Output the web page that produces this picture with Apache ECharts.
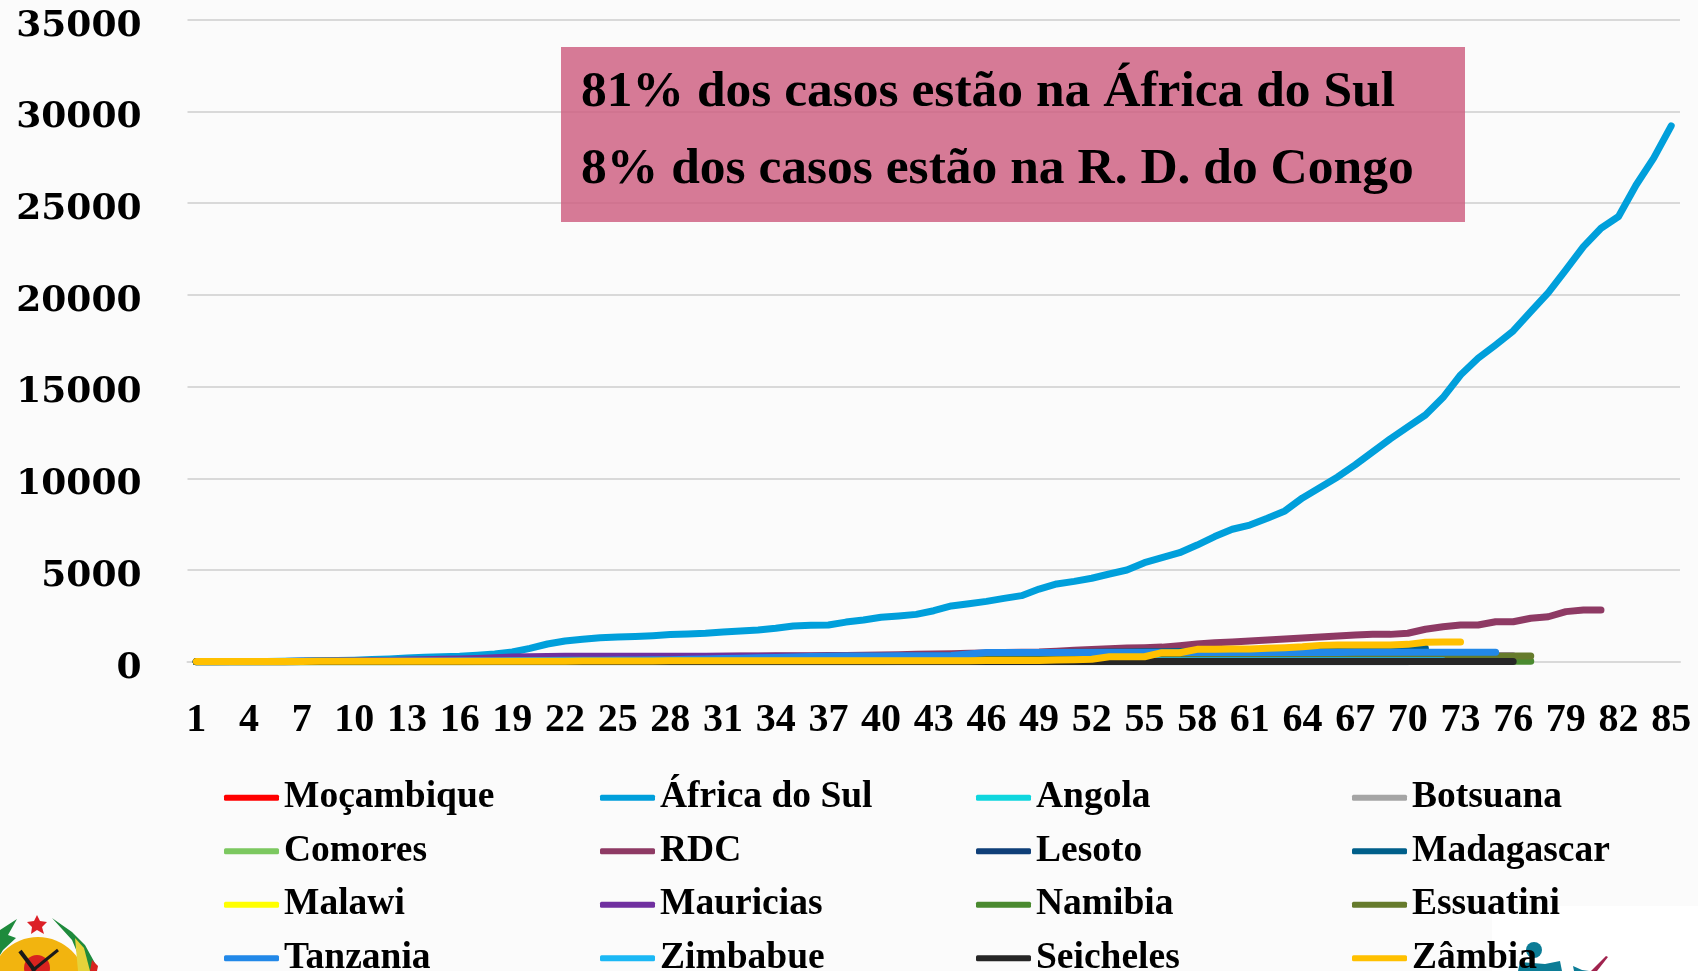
<!DOCTYPE html>
<html><head><meta charset="utf-8">
<style>html,body{margin:0;padding:0;background:#fbfbfb;overflow:hidden}#c{width:1698px;height:971px}</style>
<script src="https://cdn.jsdelivr.net/npm/echarts@6/dist/echarts.min.js"></script>
</head><body><div id="c"></div>
<script>
const days = ['1','2','3','4','5','6','7','8','9','10','11','12','13','14','15','16','17','18','19','20','21','22','23','24','25','26','27','28','29','30','31','32','33','34','35','36','37','38','39','40','41','42','43','44','45','46','47','48','49','50','51','52','53','54','55','56','57','58','59','60','61','62','63','64','65','66','67','68','69','70','71','72','73','74','75','76','77','78','79','80','81','82','83','84','85'];
const yTicks = [0,5000,10000,15000,20000,25000,30000,35000];

const mocambique = [1,1,1,1,1,3,5,7,8,8,8,10,10,10,10,10,10,17,20,21,21,21,25,28,29,30,34,35,39,39,39,41,46,46,46,46,46,56,65,70,76,76,79,79,80,81,81,82,87,91,103,104,107,110,115,119,137,145,156,164,168,170,190,194,208,209,213,227,234,234];
const africaSul = [1,3,7,13,17,24,38,51,62,85,116,150,202,240,274,300,350,420,530,730,965,1130,1220,1310,1345,1380,1420,1480,1505,1545,1620,1675,1730,1820,1945,1985,2000,2160,2270,2420,2490,2580,2780,3040,3160,3290,3450,3600,3960,4240,4380,4550,4780,5000,5400,5670,5940,6360,6820,7220,7450,7820,8220,8930,9500,10070,10730,11440,12150,12800,13450,14400,15630,16540,17270,18030,19080,20120,21360,22630,23630,24270,25990,27450,29210];
const angola = [0,0,0,0,0,1,2,2,3,3,4,4,5,7,7,7,8,8,8,10,14,16,17,19,19,19,19,19,19,19,19,24,24,25,25,25,25,25,26,27,27,27,30,35,35,36,36,43,45,48,48,50,52,58,60,61,69,70,71,74,81,84,86,86];
const botsuana = [0,0,0,0,0,0,0,0,0,0,3,3,4,4,4,4,6,6,6,13,13,13,13,13,13,15,15,20,20,20,20,22,22,22,22,22,23,23,23,23,23,23,24,24,24,24,25,25,25,25,29,29,30,30,35,35,35,35,35,35];
const comores = [0,0,0,0,0,0,0,0,0,0,0,0,0,0,0,0,0,0,0,0,0,0,0,0,0,0,0,0,0,0,0,0,0,0,0,1,1,3,3,3,8,8,11,11,11,11,11,11,11,34,34,78,87,87,87,87,106,106,106,106,106,132,132,132];
const rdc = [1,1,2,2,3,3,14,18,23,30,36,45,51,58,65,81,98,109,134,161,183,200,215,223,235,241,254,267,273,287,300,310,315,320,325,330,335,340,350,360,380,400,420,440,460,480,495,510,530,572,630,670,700,745,760,795,870,960,1030,1075,1125,1180,1235,1290,1345,1400,1455,1490,1490,1550,1770,1910,2000,2000,2180,2180,2370,2450,2730,2820,2820];
const lesoto = [0,0,0,0,0,0,0,0,0,0,0,0,0,0,0,0,0,0,0,0,0,0,0,0,0,0,0,0,0,0,0,0,0,0,0,0,0,0,0,0,0,0,0,0,0,0,0,0,0,1,1,1,1,1,1,1,2,2,2,2,2,2,2,2,2,2,2,2,2,2];
const madagascar = [0,0,0,0,0,3,12,19,26,26,43,57,70,82,88,93,102,106,117,119,120,121,121,121,122,122,128,128,132,135,135,135,135,151,158,186,193,212,225,238,283,283,304,326,371,405,448,458,488,500,510,518,525,532,542,548,554,560,566,572,578,584,590,596,602,610,620,640,670,700,730];
const malawi = [0,0,0,0,0,0,0,0,0,0,0,0,0,0,0,3,4,5,8,9,12,12,13,16,17,17,18,23,23,23,33,33,34,34,36,36,37,37,38,41,43,43,52,56,57,57,63,65,70,82,83,101,203,203,207,238,279,301,336,336,358,409,438];
const mauricias = [1,3,5,7,10,14,18,24,32,42,55,70,88,110,130,150,175,210,250,275,290,295,298,300,300,300,300,300,300,300,300,300,302,302,302,302,302,302,302,302,302,302,302,302,302,302,302,302,302,304,304,304,304,304,305,305,305,305,305,305,305,305,305,305,305,305,305,305,305,306,307,307,307,307,307,307];
const namibia = [2,3,3,3,3,4,4,7,8,11,11,14,14,14,14,16,16,16,16,16,16,16,16,16,16,16,16,16,16,16,16,16,16,16,16,16,16,16,16,16,16,16,16,16,16,16,16,16,16,16,16,16,16,16,16,16,16,16,19,20,22,23,23,23,25,25,25,25,25,25,25,25,25,25,25,25,25];
const essuatini = [1,1,1,1,4,4,9,9,9,9,9,9,9,9,9,9,10,12,12,15,16,16,22,22,24,31,56,65,71,91,100,106,108,112,119,138,153,153,172,172,187,190,203,208,217,250,250,256,261,273,279,283,293,294,300,300,300,300,305,305,310,310,310,310,310,310,310,310,310,310,310,310,310,310,310,310,310];
const tanzania = [6,12,13,13,13,14,19,19,20,20,25,32,32,32,40,45,50,55,60,65,70,75,80,85,90,95,100,110,130,150,170,190,210,235,260,290,300,305,310,315,320,325,330,335,420,500,500,500,500,500,500,500,502,502,502,504,504,504,506,506,506,506,508,508,508,508,510,510,510,510,510,510,510,510,510];
const zimbabue = [1,3,3,3,5,7,7,7,8,8,9,9,9,10,11,11,11,14,17,23,24,25,25,25,28,28,29,29,31,31,32,32,34,34,34,34,34,35,36,37,40,40,42,42,44,44,46,46,48,48,51,56,56,56,56,56,56,56,56,56,56,56,56,56,56,56,56,56,56,56,56,56];
const seicheles = [7,7,7,7,7,7,8,10,10,10,10,10,11,11,11,11,11,11,11,11,11,11,11,11,11,11,11,11,11,11,11,11,11,11,11,11,11,11,11,11,11,11,11,11,11,11,11,11,11,11,11,11,11,11,11,11,11,11,11,11,11,11,11,11,11,11,11,11,11,11,11,11,11,11,11,11];
const zambia = [5,8,10,12,14,15,16,18,18,20,20,20,22,22,22,24,24,25,25,25,28,30,32,35,38,40,42,45,46,48,50,50,52,52,54,54,55,55,55,55,55,55,55,55,58,60,60,62,70,90,110,130,270,270,270,490,490,675,675,690,690,730,765,815,890,905,910,910,910,945,1060,1070,1070];

const names = ['Moçambique','África do Sul','Angola','Botsuana','Comores','RDC','Lesoto','Madagascar','Malawi','Mauricias','Namibia','Essuatini','Tanzania','Zimbabue','Seicheles','Zâmbia'];
const colors = ['#FF0000','#009FDB','#0FD6DE','#A5A5A5','#7CC860','#8E3A64','#0F3F78','#005F8A','#FFFF00','#7030A0','#4A8A2F','#667B2C','#2288E8','#1BB8F5','#262626','#FFC000'];
const values = [mocambique,africaSul,angola,botsuana,comores,rdc,lesoto,madagascar,malawi,mauricias,namibia,essuatini,tanzania,zimbabue,seicheles,zambia];
const note1 = '81% dos casos estão na África do Sul';
const note2 = '8% dos casos estão na R. D. do Congo';

const serif = '"Liberation Serif"';
const chart = echarts.init(document.getElementById('c'), null, {renderer:'canvas'});
chart.setOption({
  animation:false,
  backgroundColor:'#fbfbfb',
  grid:{left:187.5,right:18,top:19.7,height:642,containLabel:false},
  xAxis:{type:'category',data:days,boundaryGap:true,
    axisLine:{show:true,lineStyle:{color:'#D9D9D9',width:2}},axisTick:{show:false},
    axisLabel:{interval:2,margin:39,color:'#000',fontFamily:serif,fontWeight:'bold',fontSize:40,hideOverlap:false}},
  yAxis:{type:'value',min:yTicks[0],max:yTicks[yTicks.length-1],interval:5000,
    axisLine:{show:false},axisTick:{show:false},
    splitLine:{lineStyle:{color:'#D9D9D9',width:2}},
    axisLabel:{margin:46,color:'#000',fontFamily:'"DejaVu Serif"',fontWeight:'bold',fontSize:36,verticalAlign:'top',lineHeight:13,formatter:v=>String(v)}},
  legend:{left:224,top:776,width:1510,padding:0,itemGap:10,itemWidth:55,itemHeight:6,icon:'roundRect',
    data:names,selectedMode:false,
    textStyle:{color:'#000',fontFamily:serif,fontWeight:'bold',fontSize:37.5,lineHeight:35.5,padding:[8,0,0,0],width:306}},
  series:names.map((n,i)=>({name:n,type:'line',data:values[i],showSymbol:false,symbol:'none',smooth:false,
    lineStyle:{color:colors[i],width:7,cap:'round',join:'round'},itemStyle:{color:colors[i]}})),
  graphic:[
    {type:'rect',z:1,shape:{x:561,y:47,width:904,height:175},style:{fill:'rgba(205,90,125,0.8)'}},
    {type:'text',z:5,x:581,y:93,style:{text:note1,fill:'#000',font:'bold 51.5px "Liberation Serif"',verticalAlign:'middle'}},
    {type:'text',z:5,x:581,y:170,style:{text:note2,fill:'#000',font:'bold 51.5px "Liberation Serif"',verticalAlign:'middle'}},
    // right-hand logo
    {type:'rect',z:1,shape:{x:1492,y:906,width:206,height:65},style:{fill:'#fff'}},
    {type:'circle',z:3,shape:{cx:1534,cy:950,r:8},style:{fill:'#0C7C96'}},
    {type:'polygon',z:3,shape:{points:[[1520,962],[1545,964],[1560,961],[1562,971],[1518,971]]},style:{fill:'#0C7C96'}},
    {type:'polygon',z:3,shape:{points:[[1573,966],[1582,970],[1589,971],[1574,971]]},style:{fill:'#0C7C96'}},
    {type:'polygon',z:3,shape:{points:[[1591,971],[1606,956],[1608,957],[1597,971]]},style:{fill:'#A0234E'}},
    // emblem
    {type:'polygon',z:3,shape:{points:[[0,930],[17,919],[8,935],[16,938],[3,950],[0,955]]},style:{fill:'#1E8A3C'}},
    {type:'polygon',z:3,shape:{points:[[52,918],[72,932],[85,945],[96,965],[97,971],[85,971],[72,940]]},style:{fill:'#1E8A3C'}},
    {type:'circle',z:3,shape:{cx:38,cy:985,r:48},style:{fill:'#F2B40F'}},
    {type:'circle',z:3,shape:{cx:37,cy:968,r:13},style:{fill:'#D8231F'}},
    {type:'polygon',z:3,shape:{points:[[37,915],[40,921],[47,922],[42,927],[44,934],[37,930],[31,934],[32,927],[27,922],[34,921]]},style:{fill:'#DC1F26'}},
    {type:'polygon',z:3,shape:{points:[[75,938],[84,948],[90,971],[78,971]]},style:{fill:'#E6D23A'}},
    {type:'polygon',z:3,shape:{points:[[92,960],[98,966],[97,971],[90,971]]},style:{fill:'#D8231F'}},
    {type:'polyline',z:3,shape:{points:[[20,951],[35,971]]},style:{stroke:'#1a1a1a',lineWidth:4,fill:null}},
    {type:'polyline',z:3,shape:{points:[[58,950],[32,971]]},style:{stroke:'#1a1a1a',lineWidth:3,fill:null}}
  ]
});
</script></body></html>
